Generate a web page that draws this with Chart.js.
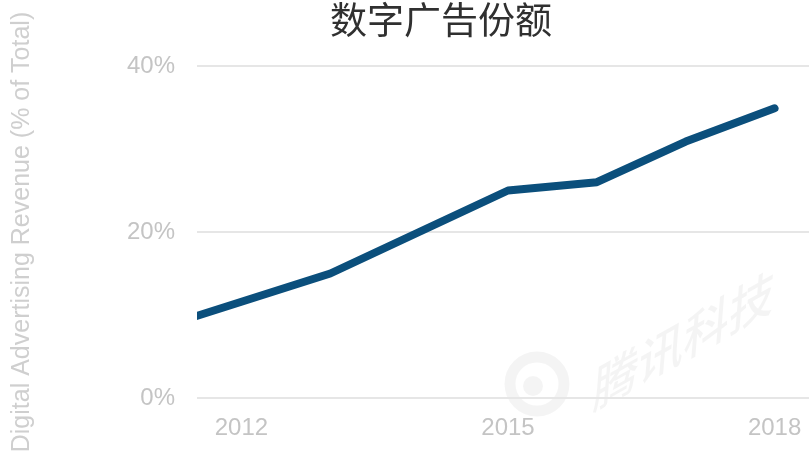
<!DOCTYPE html>
<html>
<head>
<meta charset="utf-8">
<script src="https://cdn.jsdelivr.net/npm/chart.js@4"></script>
<style>
  html, body { margin: 0; padding: 0; background: #fff; overflow: hidden; }
  #wrap { position: relative; width: 809px; height: 454px; overflow: hidden; }
  #box { position: absolute; left: 0; top: 0; width: 819px; height: 454px; }
  #title {
    position: absolute; left: 0; top: -4px; width: 882px; text-align: center;
    font-family: "Noto Sans CJK SC", sans-serif; font-size: 37px; line-height: 44px;
    color: #303030; z-index: 2;
  }
</style>
</head>
<body>
<div id="wrap">
  <div id="title">数字广告份额</div>
  <div id="box"><canvas id="myChart"></canvas></div>
</div>
<script>
// data
const years = [2011, 2012, 2013, 2014, 2015, 2016, 2017, 2018];
const share = [8.2, 11.6, 15.0, 20.0, 25.0, 26.0, 30.9, 34.9];
const xTicks = [2012, 2015, 2018];
const yTicks = [0, 20, 40];

const tickColor = '#c4c4c4';
const gridColor = '#e6e6e6';

// faint slanted watermark in the lower right
const watermark = {
    id: 'watermark',
    beforeDraw(chart) {
        const ctx = chart.ctx;
        ctx.save();
        ctx.fillStyle = 'rgba(0,0,0,0.045)';
        ctx.strokeStyle = 'rgba(0,0,0,0.045)';
        ctx.lineWidth = 11;
        ctx.beginPath();
        ctx.arc(537, 384, 27, 0, Math.PI * 2);
        ctx.stroke();
        ctx.beginPath();
        ctx.arc(533, 386, 10, 0, Math.PI * 2);
        ctx.fill();
        ctx.setTransform(0.87, -0.49, -0.08, 1, 684, 340);
        ctx.font = '500 52px "Noto Sans CJK SC"';
        ctx.textAlign = 'center';
        ctx.textBaseline = 'middle';
        ctx.fillText('腾讯科技', 0, 0);
        ctx.restore();
    }
};

const ctx = document.getElementById('myChart').getContext('2d');
const chart = new Chart(ctx, {
    type: 'line',
    data: {
        datasets: [{
            data: years.map((y, i) => ({ x: y, y: share[i] })),
            borderColor: '#0b4f7c',
            borderWidth: 8,
            borderCapStyle: 'round',
            borderJoinStyle: 'round',
            pointRadius: 0,
            tension: 0,
            fill: false,
            clip: 0
        }]
    },
    options: {
        responsive: true,
        maintainAspectRatio: false,
        animation: false,
        layout: { padding: { top: 66, bottom: 0, left: 0, right: 0 } },
        plugins: {
            legend: { display: false },
            tooltip: { enabled: false },
            title: { display: false }
        },
        scales: {
            x: {
                type: 'linear',
                min: 2011.5,
                max: 2018.5,
                afterBuildTicks: (s) => { s.ticks = xTicks.map(v => ({ value: v })); },
                afterFit: (s) => { s.height = 56; },
                grid: { display: false, drawTicks: false },
                border: { display: false },
                ticks: {
                    color: tickColor,
                    padding: 16,
                    maxRotation: 0,
                    font: { family: 'Liberation Sans', size: 24 },
                    callback: (v) => String(v)
                }
            },
            y: {
                min: 0,
                max: 40,
                afterBuildTicks: (s) => { s.ticks = yTicks.map(v => ({ value: v })); },
                afterFit: (s) => { s.width = 197; },
                grid: { color: gridColor, lineWidth: 2, drawTicks: false },
                border: { display: false },
                ticks: {
                    color: tickColor,
                    padding: 22,
                    font: { family: 'Liberation Sans', size: 24 },
                    callback: (v) => v + '%'
                },
                title: {
                    display: true,
                    text: 'Digital Advertising Revenue (% of Total)',
                    color: '#cfcfcf',
                    padding: { top: 7, bottom: 4 },
                    font: { family: 'Liberation Sans', size: 25 }
                }
            }
        }
    },
    plugins: [watermark]
});
</script>
</body>
</html>
